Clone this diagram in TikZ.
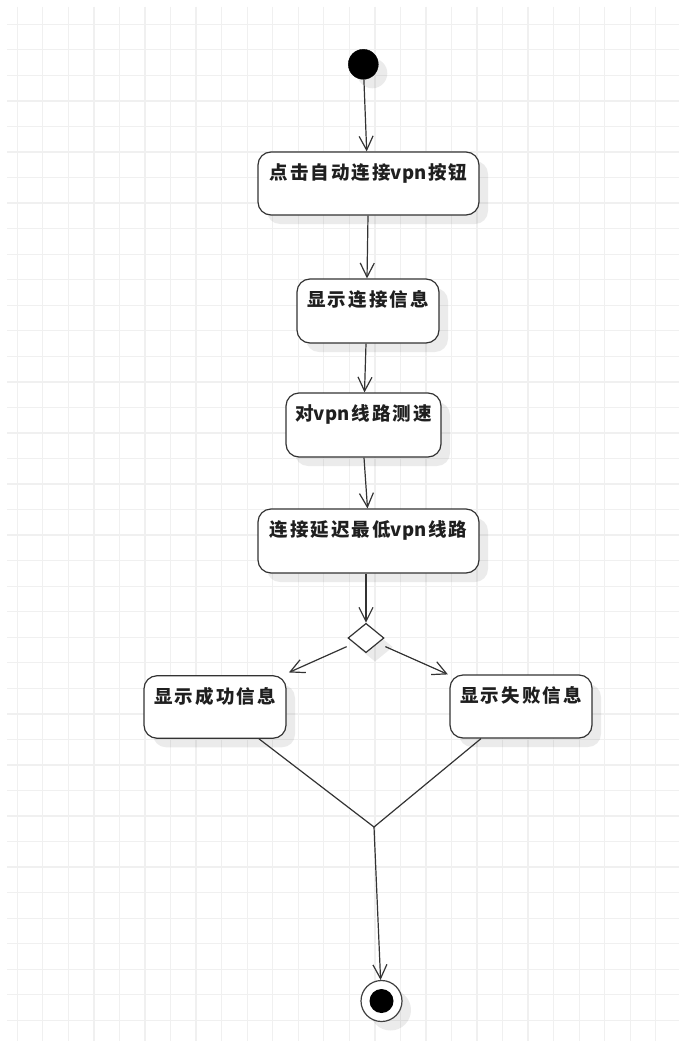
\documentclass[tikz,border=0pt]{standalone}
\usepackage{fontspec}
\newfontfamily\cjk[LetterSpace=11]{Noto Sans CJK SC}
\newfontfamily\cjklat{Noto Sans CJK SC}
\newcommand\lat[1]{{\cjklat\bfseries #1}\hspace{2pt}}
\usetikzlibrary{arrows.meta,shapes.geometric,shadows}
\begin{document}
\begin{tikzpicture}[x=1pt,y=-1pt,
  gridline/.style={draw=black!6, line width=1.3pt},
  shadowed/.style={drop shadow={shadow xshift=9pt, shadow yshift=-9pt, opacity=0.08, fill=black}},
  act/.style={draw=black!80, line width=1.2pt, rounded corners=13pt, fill=white,
    inner xsep=0pt, inner ysep=0pt, text height=27.3pt,
    font=\cjk\bfseries\fontsize{18.5pt}{20pt}\selectfont, text=black!88, shadowed},
  arr/.style={draw=black!80, line width=1.2pt, -{Straight Barb[length=14pt,width=14pt]}},
  plain/.style={draw=black!80, line width=1.2pt}
]
\useasboundingbox (0,0) rectangle (679,1041);
\fill[white] (0,0) rectangle (679,1041);
% grid
\foreach \i in {0,...,25} \draw[gridline] ({17.3+25.54*\i},7) -- ({17.3+25.54*\i},1041);
\foreach \j in {0,...,39} \draw[gridline] (7,{24.3+25.54*\j}) -- (679,{24.3+25.54*\j});

% nodes
\node[circle, fill=black, draw=black, minimum size=30pt, inner sep=0pt, shadowed] (start) at (363.3,64.3) {};
\node[act, minimum width=221pt, text depth=35.7pt] (n1) at (368.5,183.5) {点击自动连接\lat{vpn}按钮};
\node[act, minimum width=142pt, text depth=36.7pt] (n2) at (368,311) {显示连接信息};
\node[act, minimum width=155pt, text depth=36.7pt] (n3) at (363.5,425) {对\lat{vpn}线路测速};
\node[act, minimum width=221pt, text depth=36.7pt] (n4) at (368.5,541) {连接延迟最低\lat{vpn}线路};
\node[diamond, draw=black!80, line width=1.2pt, fill=white, minimum width=36pt, minimum height=29.4pt, inner sep=0pt, shadowed] (d) at (366,638) {};
\node[act, minimum width=142pt, text depth=35.2pt] (left) at (215,707) {显示成功信息};
\node[act, minimum width=142pt, text depth=35.7pt] (right) at (521,706.5) {显示失败信息};
\coordinate (m) at (374,827);
\node[circle, draw=black!75, line width=1.2pt, fill=white, minimum size=41pt, inner sep=0pt, shadowed] (end) at (381.5,1001) {};
\node[circle, fill=black, minimum size=24pt, inner sep=0pt] (endin) at (end) {};

% connectors
\draw[arr] (start) -- ([xshift=-1.8pt]n1.north);
\draw[arr] ([xshift=-0.5pt]n1.south) -- ([xshift=-1pt]n2.north);
\draw[arr] ([xshift=-2pt]n2.south) -- ([xshift=1pt]n3.north);
\draw[arr] ([xshift=0.5pt]n3.south) -- ([xshift=-1pt]n4.north);
\draw[arr] ([xshift=-2.5pt]n4.south) -- (d.north);
\draw[arr, shorten <=8pt] (d) -- ([shift={(2.3,-2.7)}]left.north east);
\draw[arr, shorten <=8pt] (d) -- ([xshift=-1.5pt]right.north west);
\draw[plain] ([xshift=44pt]left.south) -- (m) -- ([xshift=-40pt]right.south);
\draw[arr] (m) -- (end);
\end{tikzpicture}
\end{document}
